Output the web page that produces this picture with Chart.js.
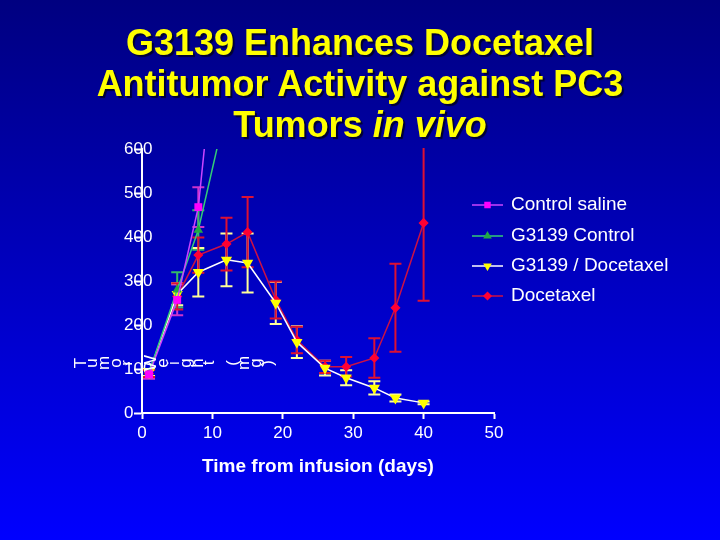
<!DOCTYPE html>
<html>
<head>
<meta charset="utf-8">
<script src="https://cdn.jsdelivr.net/npm/chart.js@4.4.1/dist/chart.umd.min.js"></script>
<style>
  html, body { margin: 0; padding: 0; }
  body {
    width: 720px; height: 540px; position: relative; overflow: hidden;
    background: linear-gradient(#000080, #0000ff);
    font-family: 'Liberation Sans', Arial, sans-serif;
  }
  #title {
    position: absolute; left: 0; top: 22px; width: 720px;
    text-align: center; color: #ffff00; font-weight: bold;
    font-size: 36px; line-height: 41px;
    text-shadow: 2px 2px 1px #000033;
  }
  #chart { position: absolute; left: 0; top: 0; }
</style>
</head>
<body>
<canvas id="chart" width="720" height="540"></canvas>
<div id="title">G3139 Enhances Docetaxel<br>Antitumor Activity against PC3<br>Tumors <i>in vivo</i></div>
<script>
// days after infusion
const controlDays = [1, 5, 8, 12];
const treatDays = [1, 5, 8, 12, 15, 19, 22, 26, 29, 33, 36, 40];

// tumor weight (mg) and +/- error
const salineWeight = [88, 257, 468, 1090];
const salineErr = [10, 35, 45, null];
const g3139Weight = [92, 280, 416, 695];
const g3139Err = [8, 40, 45, null];
const comboWeight = [92, 270, 320, 348, 341, 250, 161, 102, 80, 57, 34, 23];
const comboErr = [8, 25, 55, 60, 67, 48, 36, 17, 17, 15, 8, 3];
const docetaxelWeight = [90, 265, 359, 384, 411, 257, 166, 105, 105, 125, 239, 432];
const docetaxelErr = [8, 30, 40, 60, 80, 42, 30, 14, 22, 45, 100, 177];

const seriesLabels = ['Control saline', 'G3139 Control', 'G3139 / Docetaxel', 'Docetaxel'];
const yAxisLabel = 'Tumor Weight (mg)';

const toPoints = (days, vals) => days.map((d, i) => ({ x: d, y: vals[i] }));

const errorBars = {
  id: 'errorBars',
  beforeDatasetsDraw(chart) {
    const { ctx, chartArea: a, scales: { x, y } } = chart;
    ctx.save();
    ctx.beginPath();
    ctx.rect(a.left, a.top - 1, a.right - a.left, a.bottom - a.top + 2);
    ctx.clip();
    chart.data.datasets.forEach(ds => {
      ctx.strokeStyle = ds.errColor;
      ctx.lineWidth = 2;
      ds.data.forEach((p, i) => {
        const e = ds.errors[i];
        if (e == null) return;
        const px = x.getPixelForValue(p.x);
        const top = y.getPixelForValue(p.y + e);
        const bot = y.getPixelForValue(p.y - e);
        ctx.beginPath();
        ctx.moveTo(px, top); ctx.lineTo(px, bot);
        ctx.moveTo(px - 6, top); ctx.lineTo(px + 6, top);
        ctx.moveTo(px - 6, bot); ctx.lineTo(px + 6, bot);
        ctx.stroke();
      });
    });
    ctx.restore();
  }
};

// legend on the right + the odd sideways y label
const extras = {
  id: 'extras',
  afterDraw(chart) {
    const ctx = chart.ctx;
    ctx.save();
    ctx.font = '19px "Liberation Sans", Arial, sans-serif';
    ctx.textBaseline = 'middle';
    const rows = [205, 236, 266, 296];
    chart.data.datasets.forEach((ds, i) => {
      const ry = rows[i];
      ctx.strokeStyle = ds.borderColor;
      ctx.lineWidth = 1.5;
      ctx.beginPath(); ctx.moveTo(472, ry); ctx.lineTo(503, ry); ctx.stroke();
      ctx.fillStyle = ds.pointBackgroundColor;
      ctx.strokeStyle = ds.pointBackgroundColor;
      Chart.helpers.drawPoint(ctx, {
        pointStyle: ds.pointStyle, radius: 3.5, rotation: ds.pointRotation || 0, borderWidth: 1
      }, 487.5, ry);
      ctx.fillStyle = '#ffffff';
      ctx.fillText(ds.label, 511, ry);
    });

    ctx.font = '17px "Liberation Sans", Arial, sans-serif';
    ctx.textAlign = 'center';
    ctx.fillStyle = '#ffffff';
    [...yAxisLabel].forEach((ch, i) => {
      ctx.save();
      ctx.translate(81 + i * 11.7, 363);
      ctx.rotate(-Math.PI / 2);
      ctx.fillText(ch, 0, 0);
      ctx.restore();
    });
    ctx.restore();
  }
};

Chart.defaults.font.family = "'Liberation Sans', Arial, sans-serif";

new Chart(document.getElementById('chart'), {
  type: 'line',
  data: {
    datasets: [
      {
        label: seriesLabels[0], data: toPoints(controlDays, salineWeight), errors: salineErr,
        borderColor: '#cc44ff', borderWidth: 1.5, errColor: '#cc33cc',
        pointStyle: 'rect', pointRadius: 4.5, pointBackgroundColor: '#ff00ff', pointBorderColor: '#ff00ff'
      },
      {
        label: seriesLabels[1], data: toPoints(controlDays, g3139Weight), errors: g3139Err,
        borderColor: '#33cc77', borderWidth: 1.5, errColor: '#33bb66',
        pointStyle: 'triangle', pointRadius: 4, pointBackgroundColor: '#22aa44', pointBorderColor: '#22aa44'
      },
      {
        label: seriesLabels[2], data: toPoints(treatDays, comboWeight), errors: comboErr,
        borderColor: '#ffffff', borderWidth: 1.5, errColor: '#ffff99',
        pointStyle: 'triangle', pointRotation: 180, pointRadius: 5,
        pointBackgroundColor: '#ffff00', pointBorderColor: '#ffff00'
      },
      {
        label: seriesLabels[3], data: toPoints(treatDays, docetaxelWeight), errors: docetaxelErr,
        borderColor: '#cc1144', borderWidth: 1.5, errColor: '#dd1133',
        pointStyle: 'rectRot', pointRadius: 4, pointBackgroundColor: '#ff0033', pointBorderColor: '#ff0033'
      }
    ]
  },
  options: {
    responsive: false,
    animation: false,
    layout: { padding: { left: 124, right: 226, top: 149, bottom: 58 } },
    plugins: { legend: { display: false }, tooltip: { enabled: false } },
    scales: {
      x: {
        type: 'linear', min: 0, max: 50,
        ticks: { stepSize: 10, color: '#ffffff', font: { size: 17 }, padding: 4 },
        grid: { drawOnChartArea: false, color: '#ffffff', tickLength: 6, tickWidth: 2 },
        border: { color: '#ffffff', width: 2 },
        title: { display: true, text: 'Time from infusion (days)', color: '#ffffff', font: { size: 19, weight: 'bold' } },
        afterFit(s) { s.height = 69; }
      },
      y: {
        min: 0, max: 600,
        // labels sit over the axis line in the original, so mirror + negative padding
        ticks: { stepSize: 100, color: '#ffffff', font: { size: 17 }, mirror: true, padding: -18 },
        grid: { drawOnChartArea: false, color: '#ffffff', tickLength: 8, tickWidth: 2 },
        border: { color: '#ffffff', width: 2 },
        afterFit(s) { s.width = 18; }
      }
    }
  },
  plugins: [errorBars, extras]
});
</script>
</body>
</html>
